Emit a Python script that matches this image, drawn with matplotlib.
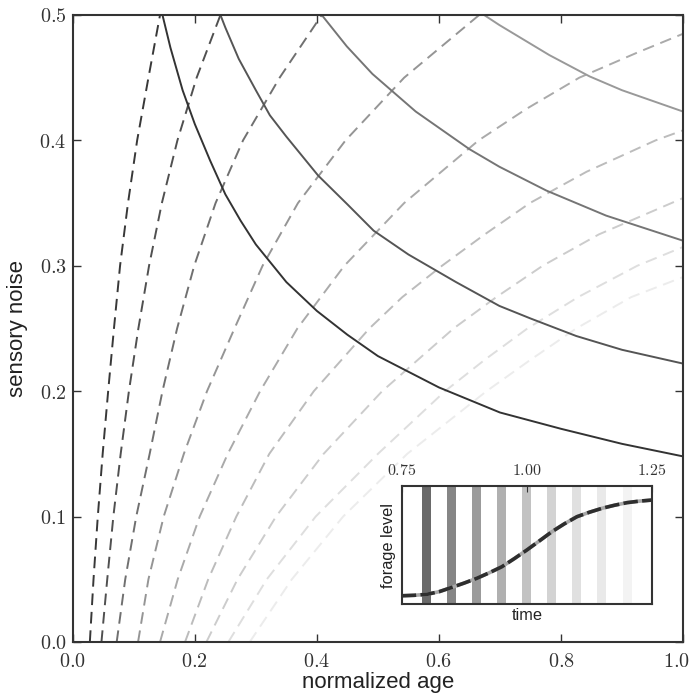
import matplotlib
matplotlib.use("Agg")
import matplotlib.pyplot as plt
import matplotlib.transforms as mtransforms
from matplotlib.ticker import FuncFormatter

plt.rcParams['font.family'] = ['Liberation Sans', 'DejaVu Sans']
plt.rcParams['mathtext.fontset'] = 'cm'

# solid curves
solid_x = [
    [0.147, 0.16, 0.18, 0.20, 0.225, 0.25, 0.275, 0.30, 0.35, 0.40, 0.45, 0.50, 0.60, 0.70, 0.80, 0.90, 1.0],
    [0.242, 0.25, 0.272, 0.30, 0.323, 0.35, 0.402, 0.45, 0.493, 0.55, 0.628, 0.699, 0.75, 0.825, 0.90, 1.0],
    [0.408, 0.449, 0.491, 0.562, 0.650, 0.699, 0.776, 0.874, 1.0],
    [0.674, 0.699, 0.781, 0.847, 0.90, 1.0],
]
solid_y = [
    [0.5, 0.474, 0.440, 0.413, 0.384, 0.357, 0.336, 0.317, 0.287, 0.264, 0.245, 0.228, 0.203, 0.183, 0.170, 0.158, 0.148],
    [0.5, 0.490, 0.465, 0.440, 0.420, 0.403, 0.372, 0.349, 0.328, 0.309, 0.287, 0.268, 0.258, 0.244, 0.233, 0.222],
    [0.5, 0.475, 0.453, 0.423, 0.393, 0.379, 0.360, 0.340, 0.320],
    [0.5, 0.492, 0.468, 0.451, 0.440, 0.423],
]
solid_colors = ['#333333', '#555555', '#757575', '#999999']

# dashed curves
levels = [0.0, 0.05, 0.1, 0.15, 0.2, 0.25, 0.3, 0.35, 0.4, 0.45, 0.5]
dashed_x = [
    [0.028, 0.034, 0.041, 0.049, 0.058, 0.0675, 0.0775, 0.0905, 0.1055, 0.124, 0.143],
    [0.047, 0.0565, 0.0665, 0.0785, 0.092, 0.1075, 0.125, 0.146, 0.1715, 0.203, 0.242],
    [0.072, 0.086, 0.104, 0.126, 0.147, 0.171, 0.199, 0.234, 0.279, 0.339, 0.408],
    [0.107, 0.124, 0.149, 0.182, 0.220, 0.265, 0.311, 0.369, 0.447, 0.543, 0.666],
    [0.143, 0.172, 0.208, 0.254, 0.307, 0.368, 0.445, 0.543, 0.665, 0.743, 0.830, 0.925, 1.0],
    [0.184, 0.222, 0.268, 0.322, 0.395, 0.486, 0.540, 0.605, 0.675, 0.749, 0.842, 0.955, 1.0],
    [0.219, 0.270, 0.333, 0.411, 0.507, 0.624, 0.694, 0.770, 0.862, 0.981, 1.0],
    [0.255, 0.318, 0.398, 0.500, 0.610, 0.675, 0.745, 0.828, 0.925, 1.0],
    [0.290, 0.359, 0.443, 0.548, 0.678, 0.750, 0.825, 0.915, 1.0],
]
dashed_y = [
    levels,
    levels,
    levels,
    levels,
    [0.0, 0.05, 0.1, 0.15, 0.2, 0.25, 0.3, 0.35, 0.4, 0.425, 0.45, 0.47, 0.485],
    [0.0, 0.05, 0.1, 0.15, 0.2, 0.25, 0.275, 0.3, 0.325, 0.35, 0.375, 0.4, 0.408],
    [0.0, 0.05, 0.1, 0.15, 0.2, 0.25, 0.275, 0.3, 0.325, 0.35, 0.354],
    [0.0, 0.05, 0.1, 0.15, 0.2, 0.225, 0.25, 0.275, 0.3, 0.315],
    [0.0, 0.05, 0.1, 0.15, 0.2, 0.225, 0.25, 0.275, 0.291],
]
dashed_colors = ['#383838', '#505050', '#707070', '#959595', '#aaaaaa',
                 '#bcbcbc', '#cccccc', '#dedede', '#ececec']

# inset data
stripe_times = [0.80, 0.85, 0.90, 0.95, 1.00, 1.05, 1.10, 1.15, 1.20]
stripe_colors = ['#6a6a6a', '#868686', '#9b9b9b', '#b0b0b0', '#c2c2c2',
                 '#d3d3d3', '#e0e0e0', '#e9e9e9', '#f3f3f3']
forage_t = [0.75, 0.775, 0.80, 0.825, 0.85, 0.875, 0.90, 0.925, 0.95, 0.975, 1.00,
            1.025, 1.05, 1.075, 1.10, 1.125, 1.15, 1.175, 1.20, 1.225, 1.25]
forage_lvl = [0.070, 0.074, 0.082, 0.105, 0.141, 0.178, 0.218, 0.265, 0.316, 0.385, 0.458,
              0.535, 0.613, 0.680, 0.740, 0.778, 0.811, 0.837, 0.859, 0.872, 0.881]

fig = plt.figure(figsize=(6.93, 7.0), dpi=100)
ax = fig.add_axes([0.105, 0.0829, 0.8806, 0.8957])

for x, y, c in zip(dashed_x, dashed_y, dashed_colors):
    ax.plot(x, y, color=c, lw=1.4, dashes=(6, 3.5))
for x, y, c in zip(solid_x, solid_y, solid_colors):
    ax.plot(x, y, color=c, lw=1.4)

ax.set_xlim(0, 1)
ax.set_ylim(0, 0.5)
ax.set_xticks([0.0, 0.2, 0.4, 0.6, 0.8, 1.0])
ax.set_yticks([0.0, 0.1, 0.2, 0.3, 0.4, 0.5])
fmt = FuncFormatter(lambda v, p: r'$%.1f$' % v)
ax.xaxis.set_major_formatter(fmt)
ax.yaxis.set_major_formatter(fmt)
ax.tick_params(direction='in', length=6, width=1, colors='#333333',
               labelsize=14.5, top=True, right=True)
ax.tick_params(axis='x', pad=7)
ax.tick_params(axis='y', pad=4.5)
for s in ax.spines.values():
    s.set_color('#333333')
    s.set_linewidth(1.5)
ax.set_xlabel('normalized age', fontsize=16, color='#222222')
ax.set_ylabel('sensory noise', fontsize=16, color='#222222')
ax.xaxis.set_label_coords(0.5, -0.048)
ax.yaxis.set_label_coords(-0.074, 0.5)

# keep the last x label inside the figure
last = ax.get_xticklabels()[-1]
last.set_transform(last.get_transform() +
                   mtransforms.ScaledTranslation(-5 / 72, 0, fig.dpi_scale_trans))

# inset
ins = fig.add_axes([0.5797, 0.1371, 0.3612, 0.1686])
for t, c in zip(stripe_times, stripe_colors):
    ins.axvspan(t - 0.009, t + 0.009, color=c, lw=0)
ins.plot(forage_t, forage_lvl, color='#a8a8a8', lw=2.6, solid_capstyle='butt')
ins.plot(forage_t, forage_lvl, color='#2e2e2e', lw=2.6, dashes=(4, 1.2))
ins.set_xlim(0.75, 1.25)
ins.set_ylim(0, 1)
ins.set_xticks([0.75, 1.00, 1.25])
ins.xaxis.set_major_formatter(FuncFormatter(lambda v, p: r'$%.2f$' % v))
ins.xaxis.tick_top()
ins.set_yticks([])
ins.tick_params(direction='in', length=4, colors='#333333', labelsize=11.5, pad=6)
for s in ins.spines.values():
    s.set_color('#333333')
    s.set_linewidth(1.5)
ins.set_xlabel('time', fontsize=11.75, color='#222222', labelpad=3)
ins.set_ylabel('forage level', fontsize=11.75, color='#222222', labelpad=4)

fig.savefig('out.png', dpi=100)
